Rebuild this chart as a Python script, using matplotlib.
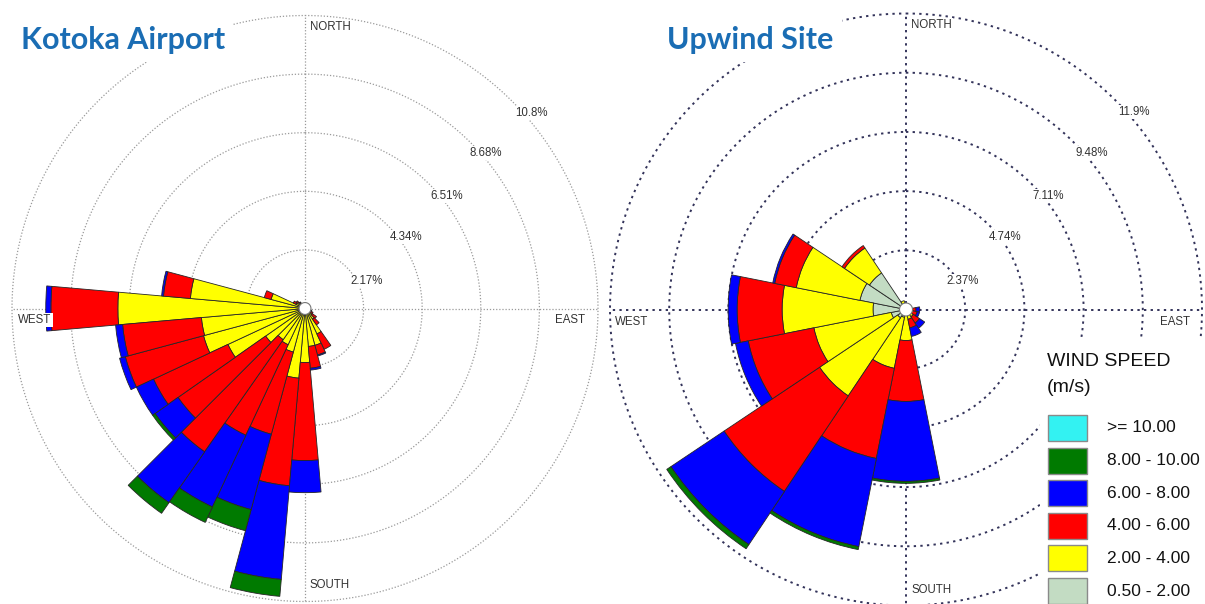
import numpy as np
import matplotlib
matplotlib.use("Agg")
import matplotlib.pyplot as plt
from matplotlib.patches import Rectangle

plt.rcParams['font.family'] = ['Liberation Sans', 'DejaVu Sans']

# ---------------- data ----------------
speed_labels = [">= 10.00", "8.00 - 10.00", "6.00 - 8.00", "4.00 - 6.00", "2.00 - 4.00", "0.50 - 2.00"]
speed_colors = ["#33f2f2", "#007a00", "#0000ff", "#ff0000", "#ffff00", "#c3dcc3"]

# Kotoka Airport: 36 sectors (bearings 0..350), percent frequency per speed class
kotoka_bearings = np.arange(0, 360, 10)
kotoka_050_200 = np.zeros(36)
kotoka_200_400 = np.array([0, 0, 0, 0, 0, 0, 0, 0, 0, 0, 0, 0.19, 0.22, 0.33, 0.48, 1.04, 1.41, 1.41,
                           2.00, 2.59, 1.67, 1.48, 1.41, 1.78, 3.15, 3.89, 3.85, 6.93, 4.26, 1.30,
                           0.37, 0.33, 0.26, 0, 0, 0])
kotoka_400_600 = np.array([0, 0, 0, 0, 0, 0, 0, 0, 0, 0, 0, 0.07, 0.11, 0.19, 0.26, 0.63, 0.37, 0.81,
                           3.63, 4.00, 3.15, 3.70, 5.07, 3.96, 3.04, 3.00, 2.93, 2.48, 1.00, 0.26,
                           0.11, 0.07, 0.04, 0, 0, 0])
kotoka_600_800 = np.array([0, 0, 0, 0, 0, 0, 0, 0, 0, 0, 0, 0, 0, 0, 0, 0, 0.04, 0.07,
                           1.19, 3.48, 2.89, 2.93, 2.30, 1.04, 0.70, 0.22, 0.26, 0.19, 0.07, 0,
                           0, 0, 0, 0, 0, 0])
kotoka_800_1000 = np.array([0, 0, 0, 0, 0, 0, 0, 0, 0, 0, 0, 0, 0, 0, 0, 0, 0, 0,
                            0, 0.63, 0.81, 0.63, 0.48, 0.11, 0, 0, 0, 0, 0, 0,
                            0, 0, 0, 0, 0, 0])
kotoka_ge_1000 = np.zeros(36)
kotoka_rings = [2.17, 4.34, 6.51, 8.68, 10.85]
kotoka_ring_labels = ["2.17%", "4.34%", "6.51%", "8.68%", "10.8%"]

# Upwind Site: 16 sectors (bearings 0..337.5)
upwind_bearings = np.arange(0, 360, 22.5)
upwind_050_200 = np.array([0.10, 0, 0, 0, 0.10, 0.10, 0.10, 0.10, 0.20, 0.32, 0.40, 0.60, 1.32, 1.88, 1.76, 0.24])
upwind_200_400 = np.array([0, 0, 0, 0, 0.15, 0.15, 0.25, 0.30, 1.04, 2.08, 3.76, 3.16, 3.64, 2.60, 1.20, 0.12])
upwind_400_600 = np.array([0, 0, 0, 0, 0.15, 0.20, 0.30, 0.35, 2.44, 3.68, 4.60, 2.68, 1.80, 0.88, 0.12, 0])
upwind_600_800 = np.array([0, 0, 0, 0, 0.15, 0.10, 0.25, 0.35, 3.20, 3.60, 2.56, 0.52, 0.36, 0.08, 0, 0])
upwind_800_1000 = np.array([0, 0, 0, 0, 0, 0, 0, 0, 0.08, 0.12, 0.20, 0, 0, 0, 0, 0])
upwind_ge_1000 = np.zeros(16)
upwind_rings = [2.37, 4.74, 7.11, 9.48, 11.85]
upwind_ring_labels = ["2.37%", "4.74%", "7.11%", "9.48%", "11.9%"]

compass_labels = ["NORTH", "EAST", "SOUTH", "WEST"]
titles = ["Kotoka Airport", "Upwind Site"]
legend_title = "WIND SPEED\n(m/s)"

# ---------------- figure ----------------
W, H = 1205, 604
fig = plt.figure(figsize=(W / 100, H / 100), dpi=100)


def px_axes(cx, cy, rad):
    return fig.add_axes([(cx - rad) / W, 1 - (cy + rad) / H, 2 * rad / W, 2 * rad / H],
                        projection='polar')


def ftext(x, y, s, **kw):
    return fig.text(x / W, 1 - y / H, s, **kw)


def draw_rose(ax, bearings, width_deg, classes, rings, rmax, line_kw, calm_r):
    ax.set_theta_zero_location('N')
    ax.set_theta_direction(-1)
    ax.set_ylim(0, rmax)
    ax.set_xticks([])
    ax.set_yticks([])
    ax.grid(False)
    ax.spines['polar'].set_visible(False)
    ax.patch.set_alpha(0)
    th = np.deg2rad(bearings)
    bottom = np.zeros(len(bearings))
    cols = speed_colors[::-1]          # inner (lowest speed) outward
    for vals, col in zip(classes, cols):
        m = vals > 0
        if m.any():
            ax.bar(th[m], vals[m], width=np.deg2rad(width_deg), bottom=bottom[m],
                   color=col, edgecolor='#262626', linewidth=0.6, zorder=3, align='center')
        bottom = bottom + vals
    tt = np.linspace(0, 2 * np.pi, 721)
    for r in rings:
        ax.plot(tt, np.full_like(tt, r), zorder=1, clip_on=False, **line_kw)
    for a in [0, 90, 180, 270]:
        ax.plot([np.deg2rad(a)] * 2, [0, rmax], zorder=1, clip_on=False, **line_kw)
    ax.fill(tt, np.full_like(tt, calm_r), facecolor='white', edgecolor='#777777',
            linewidth=0.8, zorder=6)


# Left rose
axL = px_axes(305, 308.5, 293)
draw_rose(axL, kotoka_bearings, 10,
          [kotoka_050_200, kotoka_200_400, kotoka_400_600, kotoka_600_800, kotoka_800_1000, kotoka_ge_1000],
          kotoka_rings, kotoka_rings[-1],
          dict(color='#9a9a9a', linestyle=(0, (1, 1.5)), linewidth=0.9), 0.22)

# Right rose
axR = px_axes(906, 309.5, 296)
draw_rose(axR, upwind_bearings, 22.5,
          [upwind_050_200, upwind_200_400, upwind_400_600, upwind_600_800, upwind_800_1000, upwind_ge_1000],
          upwind_rings, upwind_rings[-1],
          dict(color='#33335a', linestyle=(0, (1.2, 2.2)), linewidth=1.4), 0.26)

lab_kw = dict(fontsize=8.3, color='#333333', va='center', ha='left', zorder=10)
wbox = dict(facecolor='white', edgecolor='none', pad=1.0)

# compass labels (N, E, S, W)
for (x, y), s in zip([(310, 27), (555, 320), (310, 585), (18, 320)], compass_labels):
    ftext(x, y, s, bbox=wbox, **lab_kw)
for (x, y), s in zip([(911, 25), (1160, 322), (911, 590), (615, 322)], compass_labels):
    ftext(x, y, s, bbox=wbox, **lab_kw)

# ring labels
for (x, y), s in zip([(350, 281), (390, 237), (430, 196), (470, 153), (515, 113)], kotoka_ring_labels):
    ftext(x, y, s, bbox=wbox, **lab_kw)
for (x, y), s in zip([(946, 281), (989, 237), (1032, 196), (1075, 153), (1118, 112)], upwind_ring_labels):
    ftext(x, y, s, bbox=wbox, **lab_kw)

# titles
title_kw = dict(fontsize=22, fontweight='bold', family=['Lato', 'DejaVu Sans'], color='#1a6db4',
                va='center', ha='left', zorder=10,
                bbox=dict(facecolor='white', edgecolor='none', pad=6))
ftext(21, 40, titles[0], **title_kw)
ftext(667, 40, titles[1], **title_kw)

# legend
fig.patches.append(Rectangle((1040 / W, 0), (W - 1040) / W, 1 - 340 / H, transform=fig.transFigure,
                             facecolor='white', edgecolor='none', zorder=8))
for i, line in enumerate(legend_title.split("\n")):
    ftext(1047, 361 + 26 * i, line, fontsize=14, color='#111111', va='center', ha='left', zorder=10)
for i, (lab, col) in enumerate(zip(speed_labels, speed_colors)):
    top = 415 + 32.6 * i
    fig.patches.append(Rectangle((1048 / W, 1 - (top + 26) / H), 39 / W, 26 / H,
                                 transform=fig.transFigure, facecolor=col, edgecolor='#8a8a8a',
                                 linewidth=1.0, zorder=9))
    ftext(1107, top + 13, lab, fontsize=12.5, color='#111111', va='center', ha='left', zorder=10)

fig.savefig("out.png", dpi=100)
